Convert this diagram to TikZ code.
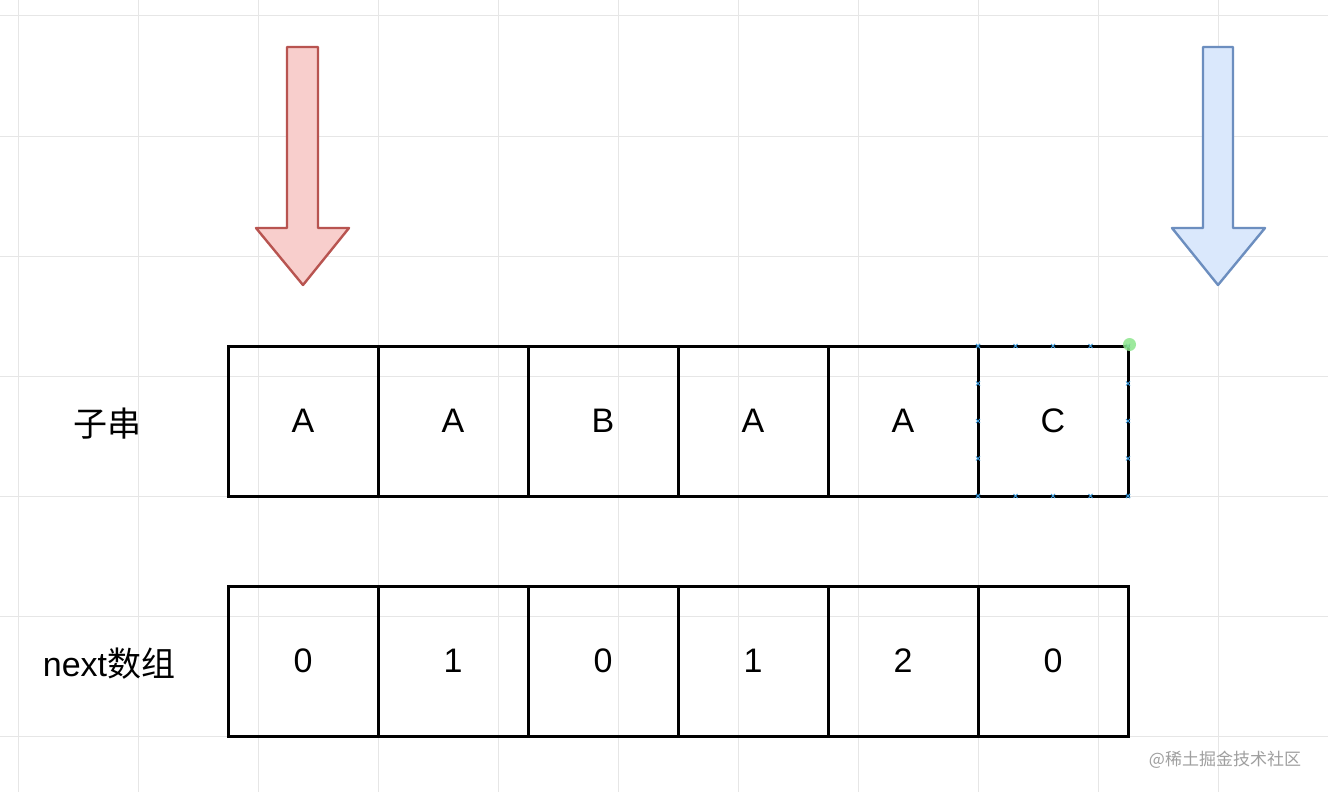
\documentclass[tikz,border=0pt]{standalone}
\usepackage{fontspec}
\setmainfont{Liberation Sans}
\newfontfamily\cjk{Noto Sans CJK SC}
\definecolor{redfill}{HTML}{F8CECC}
\definecolor{redline}{HTML}{B85450}
\definecolor{bluefill}{HTML}{DAE8FC}
\definecolor{blueline}{HTML}{6C8EBF}
\definecolor{gridgray}{HTML}{E6E6E6}
\definecolor{handle}{HTML}{3C9BDC}
\definecolor{pickgreen}{HTML}{8CE68C}
\begin{document}
\begin{tikzpicture}[x=1pt, y=-1pt]
        \tikzstyle{every node}=[inner sep=0, font=\fontsize{34}{40}\selectfont];
        \tikzstyle{cell}=[draw, line width=3pt, minimum size=150pt];
        \tikzstyle{gridline}=[gridgray, line width=1pt];
        \tikzstyle{pointer}=[line width=2.4pt, line join=round];
        \tikzstyle{handlemark}=[handle, line width=1pt];
        \useasboundingbox (0,0) rectangle (1328,792);
        \fill[white] (0,0) rectangle (1328,792);
        % background grid
        \foreach \x in {18,138,...,1218} \draw[gridline] (\x,0) -- (\x,792);
        \foreach \y in {16,136,...,736} \draw[gridline] (0,\y) -- (1328,\y);
        % pointers
        \draw[pointer, fill=redfill, draw=redline] (287,47) -- (318,47) -- (318,228) -- (349,228) -- (303,285) -- (256,228) -- (287,228) -- cycle;
        \draw[pointer, fill=bluefill, draw=blueline] (1203,47) -- (1233,47) -- (1233,228) -- (1265,228) -- (1218,285) -- (1172,228) -- (1203,228) -- cycle;
        % rows
        \node (sub) at (107,424) {\cjk 子串};
        \node (nxt) at (109,664) {next{\cjk 数组}};
        \foreach \t [count=\i] in {A,A,B,A,A,C}
                \node[cell] (s\i) at (153+150*\i,421) {\t};
        \foreach \t [count=\i] in {0,1,0,1,2,0}
                \node[cell] (n\i) at (153+150*\i,661) {\raisebox{-3pt}{\t}};
        % selection marks on last cell
        \foreach \k in {0,...,4} {
                \foreach \px/\py in {978+37.5*\k/346, 978+37.5*\k/496, 978/346+37.5*\k, 1128/346+37.5*\k}
                        \draw[handlemark] (\px-2,\py-2) -- (\px+2,\py+2) (\px-2,\py+2) -- (\px+2,\py-2);
        }
        \fill[pickgreen, opacity=0.85] (s6.north east) circle (6.5);
        % watermark
        \node[gray!75, font=\cjk\fontsize{17}{20}\selectfont] (wm) at (1225,760) {@稀土掘金技术社区};
\end{tikzpicture}
\end{document}
